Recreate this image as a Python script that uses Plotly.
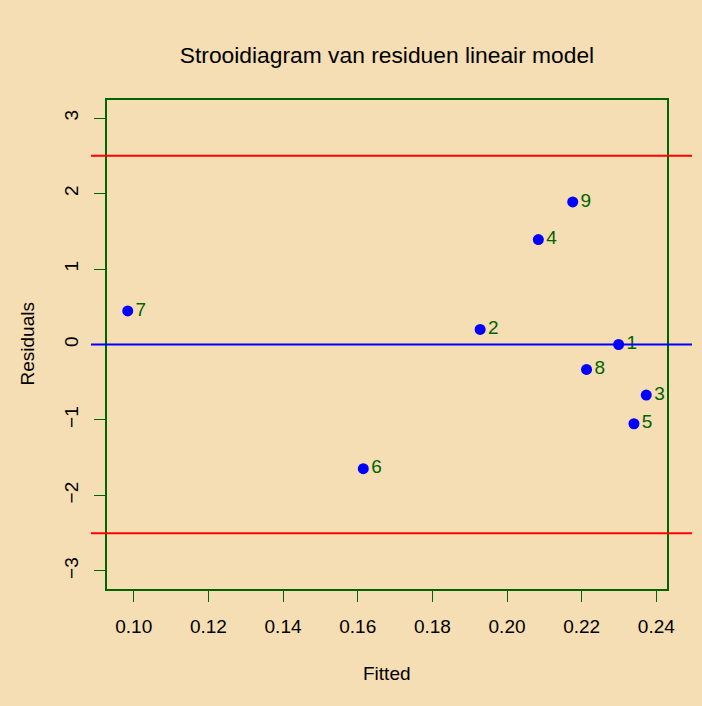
import plotly.graph_objects as go

# Data
labels = ["1", "2", "3", "4", "5", "6", "7", "8", "9"]
fitted = [0.2299, 0.1928, 0.2373, 0.2084, 0.2340, 0.1615, 0.0984, 0.2213, 0.2176]
residuals = [0.00, 0.20, -0.67, 1.39, -1.05, -1.645, 0.445, -0.33, 1.89]
x_ticks = [0.10, 0.12, 0.14, 0.16, 0.18, 0.20, 0.22, 0.24]
x_tick_text = ["0.10", "0.12", "0.14", "0.16", "0.18", "0.20", "0.22", "0.24"]
y_ticks = [-3, -2, -1, 0, 1, 2, 3]
y_lim = [-3, 3]
ref_lines = [(2.5, "red"), (-2.5, "red"), (0, "blue")]

BG = "#F5DEB3"
GREEN = "#006400"
FONT = "Liberation Sans, Arial, Helvetica, sans-serif"
FS = 19

# R-style axis ranges (4% extension)
xmin, xmax = min(fitted), max(fitted)
dx = (xmax - xmin) * 0.04
dy = (y_lim[1] - y_lim[0]) * 0.04

fig = go.Figure()
fig.add_trace(go.Scatter(
    x=fitted, y=residuals, mode="markers+text",
    text=labels, textposition="middle right",
    textfont=dict(family=FONT, size=FS, color=GREEN),
    marker=dict(color="blue", size=11, line=dict(width=0)),
    cliponaxis=False, hoverinfo="skip",
))

shapes = []
for yv, col in ref_lines:
    shapes.append(dict(type="line", xref="paper", yref="y",
                       x0=-0.0286, x1=1.0446, y0=yv, y1=yv,
                       line=dict(color=col, width=2), layer="above"))

fig.update_layout(
    width=702, height=706,
    paper_bgcolor=BG, plot_bgcolor=BG,
    margin=dict(l=107, r=35, t=100, b=117),
    showlegend=False,
    font=dict(family=FONT, color="black"),
    title=dict(text="Strooidiagram van residuen lineair model",
               x=0.5, xref="paper", y=1 - 55 / 706, yref="container",
               xanchor="center", yanchor="middle",
               font=dict(family=FONT, size=22.8, color="black")),
    shapes=shapes,
    xaxis=dict(range=[xmin - dx, xmax + dx], tickvals=x_ticks, ticktext=x_tick_text,
               showgrid=False, zeroline=False, showline=True, mirror=True,
               linecolor=GREEN, linewidth=2, ticks="outside", ticklen=11,
               tickwidth=1, tickcolor=GREEN, ticklabelstandoff=8,
               tickfont=dict(family=FONT, size=FS, color="black")),
    yaxis=dict(range=[y_lim[0] - dy, y_lim[1] + dy], tickvals=y_ticks,
               showgrid=False, zeroline=False, showline=True, mirror=True,
               linecolor=GREEN, linewidth=2, ticks="outside", ticklen=11,
               tickwidth=1, tickcolor=GREEN, tickangle=-90, ticklabelstandoff=8,
               tickfont=dict(family=FONT, size=FS, color="black")),
    annotations=[
        dict(text="Fitted", xref="paper", yref="paper", x=0.5, y=(589 - 673) / 489,
             xanchor="center", yanchor="middle", showarrow=False,
             font=dict(family=FONT, size=FS, color="black")),
        dict(text="Residuals", xref="paper", yref="paper", x=(27 - 107) / 560, y=0.5,
             xanchor="center", yanchor="middle", showarrow=False, textangle=-90,
             font=dict(family=FONT, size=FS, color="black")),
    ],
)

fig.write_html("out.html")
